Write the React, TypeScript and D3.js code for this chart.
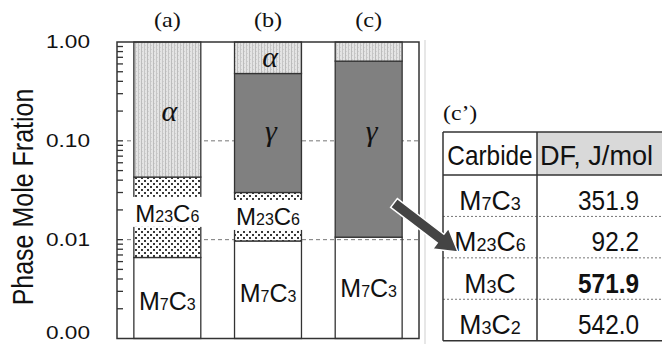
import React from 'react';
import * as d3 from 'd3';

// stacked phase fractions per sample (log axis)
const samples = ['(a)', '(b)', '(c)'];
const phases = ['M7C3', 'M23C6', 'gamma', 'alpha'];
const m7c3Frac = [0.0066, 0.0097, 0.0106];
const m23c6Frac = [0.0364, 0.0203, 0];
const gammaFrac = [0, 0.45, 0.63];
const alphaFrac = [0.957, 0.52, 0.359];

// where the in-bar labels sit (fraction value on the axis)
const alphaLabelAt = [0.2, 0.7, null];
const gammaLabelAt = [null, 0.125, 0.125];
const m23c6LabelAt = [0.0174, 0.0162, null];
const m7c3LabelAt = [0.0025, 0.003, 0.0034];

const yTickValues = [1, 0.1, 0.01, 0.001];
const yTickLabels = ['1.00', '0.10', '0.01', '0.00'];
const gridValues = [0.1, 0.01];

// table (c')
const carbides = ['M7C3', 'M23C6', 'M3C', 'M3C2'];
const dfValues = [351.9, 92.2, 571.9, 542.0];

const SANS = '"Liberation Sans", Arial, sans-serif';
const SERIF = '"Liberation Serif", "Times New Roman", serif';
const INK = '#333';

const W = 662;
const H = 344;

const x = d3.scaleBand<string>().domain(samples).range([117, 419]).paddingInner(0.335).paddingOuter(0.1675);
const y = d3.scaleLog().domain([0.001, 1]).range([338.5, 42]).clamp(true);

const rows = samples.map((s, i) => ({
  sample: s,
  M7C3: m7c3Frac[i],
  M23C6: m23c6Frac[i],
  gamma: gammaFrac[i],
  alpha: alphaFrac[i],
}));
const stacked = d3.stack<any>().keys(phases)(rows);

const fills: Record<string, string> = {
  M7C3: 'none',
  M23C6: 'url(#dotPat)',
  gamma: '#808080',
  alpha: 'url(#alphaPat)',
};

const Txt = ({ x, y, sx = 1, anchor = 'middle', size, family = SANS, weight, italic, children }: any) => (
  <text
    transform={`translate(${x},${y}) scale(${sx},1)`}
    textAnchor={anchor}
    fontSize={size}
    fontFamily={family}
    fontWeight={weight}
    fontStyle={italic ? 'italic' : undefined}
    fill="#111"
  >
    {children}
  </text>
);

const formula = (s: string, big: number, small: number) =>
  (s.match(/[A-Z][a-z]?|\d+/g) || []).map((p, i) => (
    <tspan key={i} fontSize={/\d/.test(p) ? small : big}>{p}</tspan>
  ));

// table layout
const tLeft = 443;
const tMid = 537;
const tRight = 670;
const tTop = 132;
const rowY = d3.scaleBand<string>().domain(carbides).range([175, 340.7]);
const fmt = d3.format('.1f');
const maxDF = d3.max(dfValues);

// arrow from bar (c) to the table
const tail = [394, 203];
const tip = [458, 252];
const arrowPts = (() => {
  const dx = tip[0] - tail[0];
  const dy = tip[1] - tail[1];
  const len = Math.hypot(dx, dy);
  const ux = dx / len, uy = dy / len;
  const nx = -uy, ny = ux;
  const hl = 22, sw = 5.5, hw = 13;
  const bx = tip[0] - ux * hl, by = tip[1] - uy * hl;
  return [
    [tail[0] + nx * sw, tail[1] + ny * sw],
    [bx + nx * sw, by + ny * sw],
    [bx + nx * hw, by + ny * hw],
    tip,
    [bx - nx * hw, by - ny * hw],
    [bx - nx * sw, by - ny * sw],
    [tail[0] - nx * sw, tail[1] - ny * sw],
  ];
})();

export default function App() {
  const bw = x.bandwidth();
  const minorTicks = y.ticks().filter((t) => t > 0.001 && t < 1);

  return (
    <svg width={W} height={H} style={{ position: 'fixed', left: 0, top: 0, background: '#fff' }}>
      <defs>
        <pattern id="alphaPat" width={6} height={4} patternUnits="userSpaceOnUse">
          <rect width={6} height={4} fill="#e4e4e4" />
          <rect x={0} width={1} height={4} fill="#c6c6c6" />
          <rect x={3} width={1} height={4} fill="#bcbcbc" />
          <rect x={1} y={1} width={1} height={1} fill="#d0d0d0" />
          <rect x={4} y={3} width={1} height={1} fill="#d0d0d0" />
        </pattern>
        <pattern id="dotPat" width={6} height={6} patternUnits="userSpaceOnUse">
          <rect width={6} height={6} fill="#fff" />
          <rect x={0} y={0} width={2} height={2} fill="#3a3a3a" />
          <rect x={3} y={3} width={2} height={2} fill="#3a3a3a" />
        </pattern>
      </defs>

      {/* faint edge of the pasted figure */}
      <line x1={425} x2={425} y1={40} y2={H} stroke="#cfcfcf" strokeWidth={1} />

      {/* grid */}
      {gridValues.map((v) => (
        <line key={v} x1={127} x2={419} y1={y(v)} y2={y(v)} stroke="#777" strokeWidth={1} strokeDasharray="4,3" />
      ))}

      {/* bars */}
      {stacked.map((layer) =>
        layer.map((d, i) => {
          const y0 = y(Math.max(d[0], 0.001));
          const y1 = y(Math.min(d[1], 1));
          if (d[1] - d[0] <= 0) return null;
          return (
            <rect
              key={`${layer.key}-${i}`}
              x={x(samples[i])}
              y={y1}
              width={bw}
              height={y0 - y1}
              fill={fills[layer.key]}
              stroke={INK}
              strokeWidth={1.3}
            />
          );
        })
      )}

      {/* M23C6 label boxes */}
      {m23c6LabelAt.map((v, i) =>
        v == null ? null : (
          <g key={`m23-${i}`}>
            <rect x={(x(samples[i]) as number) - 2} y={y(v) - 19} width={bw + 4} height={30} fill="#fff" />
            <Txt x={(x(samples[i]) as number) + bw / 2} y={y(v) + 6} size={24}>{formula('M23C6', 24, 16)}</Txt>
          </g>
        )
      )}
      {m7c3LabelAt.map((v, i) => (
        <Txt key={`m7-${i}`} x={(x(samples[i]) as number) + bw / 2} y={y(v) + 11} size={25}>
          {formula('M7C3', 25, 16)}
        </Txt>
      ))}
      {alphaLabelAt.map((v, i) =>
        v == null ? null : (
          <Txt key={`al-${i}`} x={(x(samples[i]) as number) + bw / 2 + 2} y={y(v) + 10} size={30} family={SERIF} italic>
            α
          </Txt>
        )
      )}
      {gammaLabelAt.map((v, i) =>
        v == null ? null : (
          <Txt key={`ga-${i}`} x={(x(samples[i]) as number) + bw / 2 + 3} y={y(v) + 10} size={30} family={SERIF} italic>
            γ
          </Txt>
        )
      )}

      {/* frame */}
      <rect x={117} y={42} width={302} height={296.5} fill="none" stroke={INK} strokeWidth={1.5} />
      {minorTicks.map((t) => (
        <line key={t} x1={117} x2={123} y1={y(t)} y2={y(t)} stroke={INK} strokeWidth={1.3} />
      ))}

      {/* y axis */}
      {yTickValues.map((v, i) => (
        <Txt key={v} x={90} y={Math.min(y(v) + 6, 338.5)} size={19} sx={1.19} anchor="end">{yTickLabels[i]}</Txt>
      ))}
      <text transform="translate(33,197) scale(1.2,1) rotate(-90)" textAnchor="middle" fontSize={25} fontFamily={SANS} fill="#111">
        Phase Mole Fration
      </text>

      {/* sample titles */}
      {samples.map((s) => (
        <Txt key={s} x={(x(s) as number) + bw / 2} y={27} size={22} sx={1.1} family={SERIF}>{s}</Txt>
      ))}

      {/* table */}
      <Txt x={tLeft} y={120} size={22} sx={1.08} family={SERIF} anchor="start">(c’)</Txt>
      <rect x={tMid} y={tTop} width={tRight - tMid} height={175 - tTop} fill="#d9d9d9" />
      <Txt x={490} y={165} size={28} sx={0.87}>Carbide</Txt>
      <Txt x={540} y={165} size={28} sx={0.97} anchor="start">DF, J/mol</Txt>
      {carbides.map((c, i) => {
        const cy = (rowY(c) as number) + rowY.bandwidth() / 2;
        return (
          <g key={c}>
            <Txt x={490} y={cy + 14} size={28} sx={0.95}>{formula(c, 28, 19)}</Txt>
            <Txt x={639} y={cy + 14} size={28} sx={0.87} anchor="end" weight={dfValues[i] === maxDF ? 'bold' : undefined}>
              {fmt(dfValues[i])}
            </Txt>
            {i > 0 && (
              <line x1={tLeft} x2={tRight} y1={rowY(c)} y2={rowY(c)} stroke="#777" strokeWidth={1} strokeDasharray="2,2" />
            )}
          </g>
        );
      })}
      <line x1={tLeft} x2={tRight} y1={tTop} y2={tTop} stroke={INK} strokeWidth={1.5} />
      <line x1={tLeft} x2={tRight} y1={175} y2={175} stroke={INK} strokeWidth={1.5} />
      <line x1={tLeft} x2={tRight} y1={340.7} y2={340.7} stroke={INK} strokeWidth={1.5} />
      <line x1={tLeft} x2={tLeft} y1={tTop} y2={340.7} stroke={INK} strokeWidth={1.5} />
      <line x1={tMid} x2={tMid} y1={tTop} y2={340.7} stroke={INK} strokeWidth={1.5} />

      {/* arrow */}
      <polygon points={arrowPts.map((p) => p.join(',')).join(' ')} fill="#444" stroke="#fff" strokeWidth={1.5} strokeLinejoin="miter" />
    </svg>
  );
}
